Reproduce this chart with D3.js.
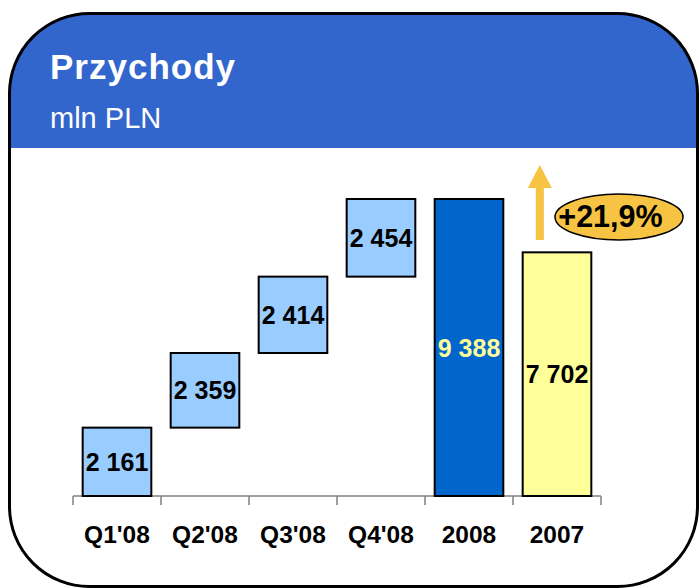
<!DOCTYPE html>
<html><head><meta charset="utf-8">
<script src="https://cdn.jsdelivr.net/npm/d3@7"></script>
<style>body{margin:0;background:#fff}svg{display:block}</style>
</head><body>
<svg id="c" width="699" height="588"></svg>
<script>
const categories = ["Q1'08","Q2'08","Q3'08","Q4'08","2008","2007"];
const values = [2161, 2359, 2414, 2454, 9388, 7702];
const labels = ["2 161","2 359","2 414","2 454","9 388","7 702"];
const kinds = ["step","step","step","step","total","prev"];
const growthLabel = "+21,9%";

const svg = d3.select("#c");
const font = "'Liberation Sans', Arial, sans-serif";

// frame
const defs = svg.append("defs");
defs.append("clipPath").attr("id","fr").append("rect")
  .attr("x",9.5).attr("y",13.5).attr("width",688).attr("height",573).attr("rx",80).attr("ry",80);
svg.append("rect").attr("x",9.5).attr("y",13.5).attr("width",688).attr("height",573).attr("rx",80).attr("ry",80)
  .attr("fill","#fff");
svg.append("rect").attr("x",0).attr("y",0).attr("width",699).attr("height",148)
  .attr("fill","#3366CC").attr("clip-path","url(#fr)");
svg.append("rect").attr("x",9.5).attr("y",13.5).attr("width",688).attr("height",573).attr("rx",80).attr("ry",80)
  .attr("fill","none").attr("stroke","#000").attr("stroke-width",3);

svg.append("text").attr("x",50).attr("y",79).attr("fill","#fff")
  .attr("font-family",font).attr("font-weight","bold").attr("font-size",35)
  .attr("letter-spacing",1).text("Przychody");
svg.append("text").attr("x",50).attr("y",128).attr("fill","#fff")
  .attr("font-family",font).attr("font-size",29).text("mln PLN");

// scales
const x = d3.scaleBand().domain(categories).range([73,601]).paddingInner(0.22).paddingOuter(0.11);
const y = d3.scaleLinear().domain([0,9388]).range([496,199]);

// waterfall bases
let cum = 0;
const data = categories.map((c,i)=>{
  let lo, hi;
  if (kinds[i]==="step") { lo = cum; hi = cum + values[i]; cum = hi; }
  else { lo = 0; hi = values[i]; }
  return {c, lo, hi, v: values[i], label: labels[i], kind: kinds[i]};
});
const fills = {step:"#99CCFF", total:"#0066CC", prev:"#FFFF99"};
const textFill = {step:"#000", total:"#FFFF99", prev:"#000"};

// axis
const axisG = svg.append("g").attr("transform","translate(0,496)");
axisG.append("line").attr("x1",73).attr("x2",601).attr("y1",0).attr("y2",0).attr("stroke","#808080").attr("stroke-width",1.5);
const step = (601-73)/categories.length;
d3.range(categories.length+1).forEach(i=>{
  axisG.append("line").attr("x1",73+i*step).attr("x2",73+i*step).attr("y1",0).attr("y2",9)
    .attr("stroke","#808080").attr("stroke-width",1.5);
});
axisG.selectAll("text.cat").data(categories).join("text")
  .attr("x",d=>x(d)+x.bandwidth()/2).attr("y",47).attr("text-anchor","middle")
  .attr("font-family",font).attr("font-weight","bold").attr("font-size",24.5).attr("fill","#000").text(d=>d);

// bars
svg.selectAll("rect.bar").data(data).join("rect")
  .attr("x",d=>x(d.c)).attr("width",x.bandwidth())
  .attr("y",d=>y(d.hi)).attr("height",d=>y(d.lo)-y(d.hi))
  .attr("fill",d=>fills[d.kind]).attr("stroke","#000").attr("stroke-width",2);

svg.selectAll("text.val").data(data).join("text")
  .attr("x",d=>x(d.c)+x.bandwidth()/2).attr("y",d=>(y(d.lo)+y(d.hi))/2)
  .attr("dy","0.36em").attr("text-anchor","middle")
  .attr("font-family",font).attr("font-weight","bold").attr("font-size",25)
  .attr("fill",d=>textFill[d.kind]).text(d=>d.label);

// growth arrow
const ax = x("2007") + x.bandwidth()*0.25;
svg.append("rect").attr("x",ax-4).attr("y",186).attr("width",8).attr("height",54).attr("fill","#F6C342");
svg.append("path").attr("d",`M${ax-12},188 L${ax+12},188 L${ax},165 Z`).attr("fill","#F6C342");
svg.append("ellipse").attr("cx",619).attr("cy",217).attr("rx",64).attr("ry",23)
  .attr("fill","#F6C342").attr("stroke","#000").attr("stroke-width",1.5);
svg.append("text").attr("x",610.5).attr("y",227).attr("text-anchor","middle")
  .attr("font-family",font).attr("font-weight","bold").attr("font-size",30.5).attr("fill","#000").text(growthLabel);
</script>
</body></html>
